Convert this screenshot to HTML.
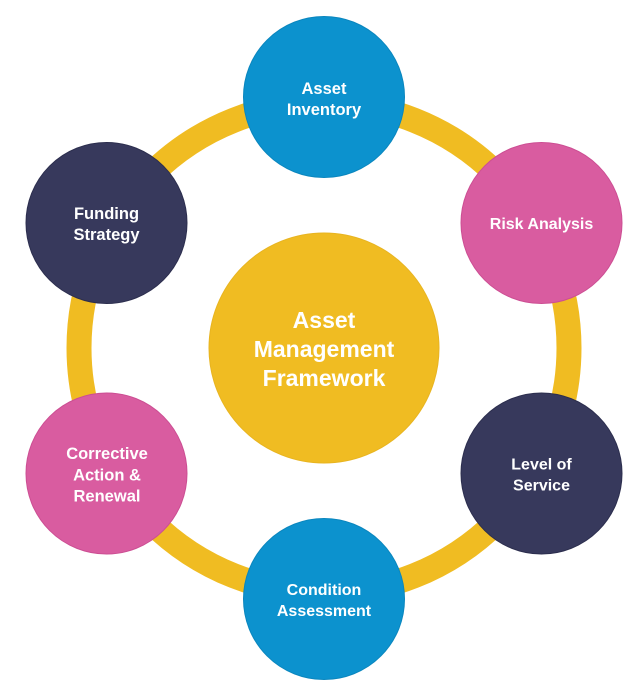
<!DOCTYPE html>
<html>
<head>
<meta charset="utf-8">
<style>
  html, body { margin: 0; padding: 0; background: #ffffff; }
  body { width: 644px; height: 700px; overflow: hidden; }
  svg { display: block; }
  text { font-family: "Liberation Sans", Arial, sans-serif; font-weight: bold; fill: #ffffff; text-anchor: middle; }
</style>
</head>
<body>
<svg width="644" height="700" viewBox="0 0 644 700" xmlns="http://www.w3.org/2000/svg">
  <!-- ring -->
  <circle cx="324" cy="348" r="245" fill="none" stroke="#F0BC22" stroke-width="25"/>

  <!-- center -->
  <circle cx="324" cy="348" r="115" fill="#F0BC22" stroke="#E8B420" stroke-width="1"/>
  <text x="324" y="328" font-size="23">Asset</text>
  <text x="324" y="357" font-size="23">Management</text>
  <text x="324" y="386" font-size="23">Framework</text>

  <!-- Asset Inventory -->
  <circle cx="324" cy="97" r="80.5" fill="#0C92CE" stroke="#0A86BE" stroke-width="1"/>
  <text x="324" y="94" font-size="16.5">Asset</text>
  <text x="324" y="115" font-size="16.5">Inventory</text>

  <!-- Risk Analysis -->
  <circle cx="541.5" cy="223" r="80.5" fill="#D95CA0" stroke="#CC4E93" stroke-width="1"/>
  <text x="541.5" y="229" font-size="16">Risk Analysis</text>

  <!-- Level of Service -->
  <circle cx="541.5" cy="473.5" r="80.5" fill="#37395C" stroke="#2C2E4E" stroke-width="1"/>
  <text x="541.5" y="469.5" font-size="16">Level of</text>
  <text x="541.5" y="490.5" font-size="16">Service</text>

  <!-- Condition Assessment -->
  <circle cx="324" cy="599" r="80.5" fill="#0C92CE" stroke="#0A86BE" stroke-width="1"/>
  <text x="324" y="595" font-size="16">Condition</text>
  <text x="324" y="616" font-size="16">Assessment</text>

  <!-- Corrective Action & Renewal -->
  <circle cx="106.5" cy="473.5" r="80.5" fill="#D95CA0" stroke="#CC4E93" stroke-width="1"/>
  <text x="107" y="459" font-size="16.5">Corrective</text>
  <text x="107" y="480.5" font-size="16.5">Action &amp;</text>
  <text x="107" y="501.5" font-size="16.5">Renewal</text>

  <!-- Funding Strategy -->
  <circle cx="106.5" cy="223" r="80.5" fill="#37395C" stroke="#2C2E4E" stroke-width="1"/>
  <text x="106.5" y="219" font-size="16.5">Funding</text>
  <text x="106.5" y="240" font-size="16.5">Strategy</text>
</svg>
</body>
</html>
